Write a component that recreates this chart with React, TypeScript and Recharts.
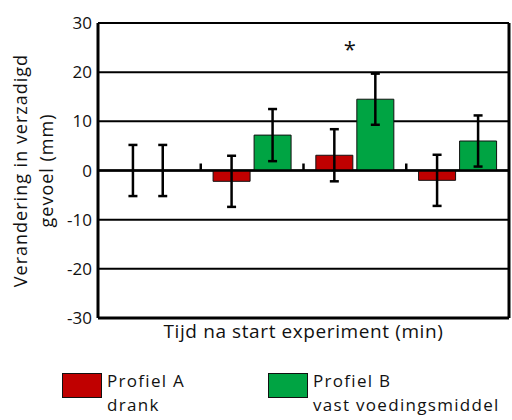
import {
  ComposedChart,
  Bar,
  XAxis,
  YAxis,
  CartesianGrid,
  ErrorBar,
  ReferenceLine,
  Scatter,
  Legend,
} from 'recharts';

const times = ['t1', 't2', 't3', 't4'];
const profielA = [0, -2.2, 3.1, -2.0];
const profielB = [0, 7.2, 14.5, 6.0];
const errA = [5.2, 5.2, 5.3, 5.2];
const errB = [5.2, 5.3, 5.2, 5.2];
// first time point: no change, only the spread is drawn
const startSpread = [
  { x: 0.34, y: 0, e: 5.2 },
  { x: 0.63, y: 0, e: 5.2 },
];
const yTicks = [-30, -20, -10, 0, 10, 20, 30];
const groupEdges = [1, 2, 3];
const starAt = { x: 2.45, y: 25 };
const legendLines = [
  ['Profiel A', 'drank'],
  ['Profiel B', 'vast voedingsmiddel'],
];

const RED = '#c00000';
const GREEN = '#00a443';
const FONT = '"Open Sans", sans-serif';

const data = times.map((t, i) => ({ t, a: profielA[i], b: profielB[i], ea: errA[i], eb: errB[i] }));
const edgeData = groupEdges.map((x) => ({ x, y: 0 }));
const starData = [starAt];

function YLabel({ viewBox }: any) {
  const cy = viewBox.y + viewBox.height / 2;
  const lines = ['Verandering in verzadigd', 'gevoel (mm)'];
  const xs = [20, 46];
  return (
    <g>
      {lines.map((l, i) => (
        <text
          key={l}
          x={xs[i]}
          y={cy}
          transform={`rotate(-90 ${xs[i]} ${cy})`}
          textAnchor="middle"
          dominantBaseline="central"
          fontSize={18}
          letterSpacing={1}
          fontFamily={FONT}
          fill="#111"
        >
          {l}
        </text>
      ))}
    </g>
  );
}

function EdgeTick({ cx, cy }: any) {
  return <line x1={cx} x2={cx} y1={cy} y2={cy - 7} stroke="#000" strokeWidth={2.5} />;
}

function NoDot() {
  return null;
}

function Star({ cx, cy }: any) {
  return (
    <text x={cx} y={cy} textAnchor="middle" dominantBaseline="central" fontSize={22} fontFamily={FONT} fill="#111">
      *
    </text>
  );
}

function LegendBox() {
  const colors = [RED, GREEN];
  const lefts = [62, 268];
  return (
    <div
      style={{
        position: 'relative',
        width: 512,
        height: 50,
        fontFamily: FONT,
        fontSize: 17,
        letterSpacing: 1.3,
        color: '#111',
      }}
    >
      {legendLines.map((lines, i) => (
        <div key={lines[0]} style={{ position: 'absolute', left: lefts[i], top: 0, display: 'flex' }}>
          <div style={{ width: 38, height: 23, background: colors[i], border: '1px solid #111', marginTop: 4 }} />
          <div style={{ marginLeft: 5, lineHeight: '24px' }}>
            {lines.map((l) => (
              <div key={l}>{l}</div>
            ))}
          </div>
        </div>
      ))}
    </div>
  );
}

export default function App() {
  return (
    <div style={{ position: 'absolute', left: 0, top: 0, width: 512, height: 420, background: '#fff' }}>
      <ComposedChart
        width={512}
        height={420}
        data={data}
        margin={{ top: 23, right: 3, bottom: 72, left: 58 }}
        barCategoryGap="12%"
        barGap={4}
      >
        <CartesianGrid vertical={false} stroke="#000" strokeWidth={2} strokeOpacity={1} />
        <XAxis
          dataKey="t"
          tick={false}
          tickLine={false}
          axisLine={{ stroke: '#000', strokeWidth: 3 }}
          height={30}
          label={{
            value: 'Tijd na start experiment (min)',
            position: 'insideTop',
            offset: 7,
            style: { fontSize: 19, letterSpacing: 0.6, fontFamily: FONT, fill: '#111' },
          }}
        />
        <XAxis xAxisId="num" type="number" dataKey="x" domain={[0, 4]} hide />
        <YAxis
          domain={[-30, 30]}
          ticks={yTicks}
          width={40}
          tickLine={false}
          tickSize={0}
          tickMargin={6}
          axisLine={{ stroke: '#000', strokeWidth: 3 }}
          tick={{ fontSize: 17, fontFamily: FONT, fill: '#111' }}
          label={{ content: <YLabel /> }}
        />
        <YAxis yAxisId="num" dataKey="y" domain={[-30, 30]} hide />
        <ReferenceLine xAxisId="num" x={4} stroke="#000" strokeWidth={3} />
        <Bar dataKey="a" fill={RED} stroke="#111" strokeWidth={1} isAnimationActive={false}>
          <ErrorBar dataKey="ea" width={4.5} stroke="#000" strokeWidth={2.5} />
        </Bar>
        <Bar dataKey="b" fill={GREEN} stroke="#111" strokeWidth={1} isAnimationActive={false}>
          <ErrorBar dataKey="eb" width={4.5} stroke="#000" strokeWidth={2.5} />
        </Bar>
        <ReferenceLine y={0} stroke="#000" strokeWidth={2.5} />
        <Scatter xAxisId="num" yAxisId="num" data={startSpread} shape={<NoDot />} isAnimationActive={false}>
          <ErrorBar dataKey="e" direction="y" width={4.5} stroke="#000" strokeWidth={2.5} />
        </Scatter>
        <Scatter xAxisId="num" yAxisId="num" data={edgeData} shape={<EdgeTick />} isAnimationActive={false} />
        <Scatter xAxisId="num" yAxisId="num" data={starData} shape={<Star />} isAnimationActive={false} />
        <Legend
          layout="horizontal"
          verticalAlign="middle"
          content={<LegendBox />}
          wrapperStyle={{ top: 369, left: 0, width: 512 }}
        />
      </ComposedChart>
    </div>
  );
}
